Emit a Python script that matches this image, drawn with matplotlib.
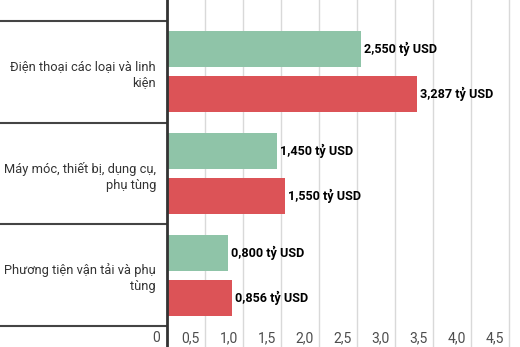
import matplotlib
matplotlib.use("Agg")
import matplotlib.pyplot as plt
import numpy as np

categories = ["Điện thoại các loại và linh\nkiện",
              "Máy móc, thiết bị, dụng cụ,\nphụ tùng",
              "Phương tiện vận tải và phụ\ntùng"]
series_a = [2.550, 1.450, 0.800]
series_b = [3.287, 1.550, 0.856]
labels_a = ["2,550 tỷ USD", "1,450 tỷ USD", "0,800 tỷ USD"]
labels_b = ["3,287 tỷ USD", "1,550 tỷ USD", "0,856 tỷ USD"]
xticks = [0, 0.5, 1.0, 1.5, 2.0, 2.5, 3.0, 3.5, 4.0, 4.5]
xtick_labels = ["0", "0,5", "1,0", "1,5", "2,0", "2,5", "3,0", "3,5", "4,0", "4,5"]

green = "#8fc4a8"
red = "#dc5357"

plt.rcParams['font.family'] = ['Roboto', 'DejaVu Sans']

W, H = 520, 347
fig = plt.figure(figsize=(W / 100, H / 100), dpi=100)
left_px = 167
ax = fig.add_axes([left_px / W, 0, (W - left_px) / W, 1])

xmax = 4.5 * (W - left_px) / (509 - left_px)
ax.set_xlim(0, xmax)
ext = 21 / 101.7
ax.set_ylim(2.5 + ext, -0.5 - ext)

y = np.arange(len(categories))
off = 0.222
h = 0.355
ax.barh(y - off, series_a, height=h, color=green, zorder=3)
ax.barh(y + off, series_b, height=h, color=red, zorder=3)

for yi, v, lab in zip(y - off, series_a, labels_a):
    ax.annotate(lab, xy=(v, yi), xytext=(3, 0), textcoords='offset pixels',
                ha='left', va='center', fontsize=9.1, fontweight='bold', color='#000000', zorder=4)
for yi, v, lab in zip(y + off, series_b, labels_b):
    ax.annotate(lab, xy=(v, yi), xytext=(3, 0), textcoords='offset pixels',
                ha='left', va='center', fontsize=9.1, fontweight='bold', color='#000000', zorder=4)

# gridlines
ax.set_xticks(xticks)
ax.set_xticklabels([])
ax.tick_params(axis='x', length=0)
ax.grid(axis='x', color='#d9d9d9', linewidth=1, zorder=0)
for v, lab in zip(xticks, xtick_labels):
    dx = -7 if v == 0 else -5
    ax.annotate(lab, xy=(v, 0), xycoords=('data', 'axes fraction'), xytext=(dx, 9),
                textcoords='offset pixels', ha='right', va='center', fontsize=10,
                color='#4d4d4d', zorder=4)

# category separators as long major ticks, labels as minor ticks
ax.set_yticks([-0.5, 0.5, 1.5, 2.5])
ax.set_yticklabels([])
ax.tick_params(axis='y', which='major', length=left_px * 0.72, width=1.5, color='#444444', direction='out')
ax.set_yticks(y, minor=True)
ax.set_yticklabels(categories, minor=True, fontsize=9.3, color='#333333', ha='right', multialignment='right', linespacing=1.3)
ax.tick_params(axis='y', which='minor', length=0, pad=8)

for s in ['top', 'right', 'bottom']:
    ax.spines[s].set_visible(False)
ax.spines['left'].set_color('#333333')
ax.spines['left'].set_linewidth(2)
ax.spines['left'].set_zorder(5)

fig.savefig("out.png", dpi=100)
